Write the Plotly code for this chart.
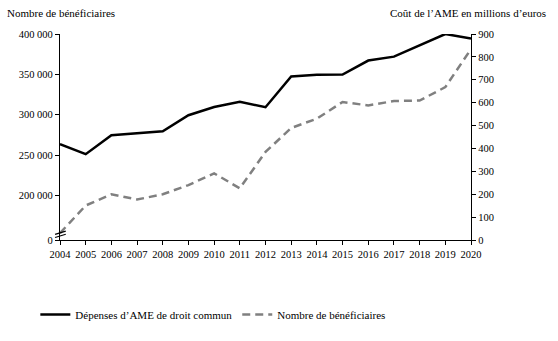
import plotly.graph_objects as go

years = list(range(2004, 2021))
depenses = [419, 375, 458, 465, 475, 545, 581, 604, 580, 714, 722, 723, 784, 801, 849, 900, 880]
beneficiaires = [153500, 187700, 201600, 195100, 201600, 213000, 227500, 209000, 254000,
                 283700, 295200, 315800, 311600, 317000, 317700, 334200, 381400]

left_tickvals = [145000, 200000, 250000, 300000, 350000, 400000]
left_ticktext = ["0", "200 000", "250 000", "300 000", "350 000", "400 000"]

FONT = "Liberation Serif"

fig = go.Figure()
fig.add_trace(go.Scatter(
    x=years, y=depenses, name="Dépenses d’AME de droit commun", yaxis="y2",
    mode="lines", line=dict(color="#000000", width=2.5)))
fig.add_trace(go.Scatter(
    x=years, y=beneficiaires, name="Nombre de bénéficiaires", yaxis="y",
    mode="lines", line=dict(color="#808080", width=2.5, dash="8px,5px")))

axis_common = dict(showgrid=False, zeroline=False, showline=True, linecolor="#000",
                   linewidth=1.2, ticks="outside", ticklen=4, tickcolor="#000",
                   tickfont=dict(family=FONT, size=10.5, color="#000"))

fig.update_layout(
    width=558, height=341,
    margin=dict(l=60, r=87, t=34, b=98),
    plot_bgcolor="white", paper_bgcolor="white",
    font=dict(family=FONT, size=11, color="#000"),
    xaxis=dict(range=[2004, 2020], tickmode="linear", dtick=1, **axis_common),
    yaxis=dict(range=[145000, 400000], tickvals=left_tickvals, ticktext=left_ticktext,
               **axis_common),
    yaxis2=dict(range=[0, 900], dtick=100, overlaying="y", side="right", **axis_common),
    legend=dict(orientation="h", x=-0.06, xanchor="left", y=-0.362, yanchor="middle",
                font=dict(family=FONT, size=11), itemwidth=30, tracegroupgap=0),
    showlegend=True,
)

fig.add_annotation(text="Nombre de bénéficiaires", xref="paper", yref="paper",
                   x=(5 - 60) / 411, y=(242.5 - 13) / 208.5, xanchor="left", yanchor="middle",
                   showarrow=False, font=dict(family=FONT, size=11))
fig.add_annotation(text="Coût de l’AME en millions d’euros", xref="paper", yref="paper",
                   x=(548 - 60) / 411, y=(242.5 - 13) / 208.5, xanchor="right", yanchor="middle",
                   showarrow=False, font=dict(family=FONT, size=11))

# axis break marks on the left axis
for dy in (0.02, 0.035):
    fig.add_shape(type="line", xref="paper", yref="paper",
                  x0=-0.012, x1=0.014, y0=dy - 0.008, y1=dy + 0.008,
                  line=dict(color="#000", width=1.2))

fig.write_html("out.html")
